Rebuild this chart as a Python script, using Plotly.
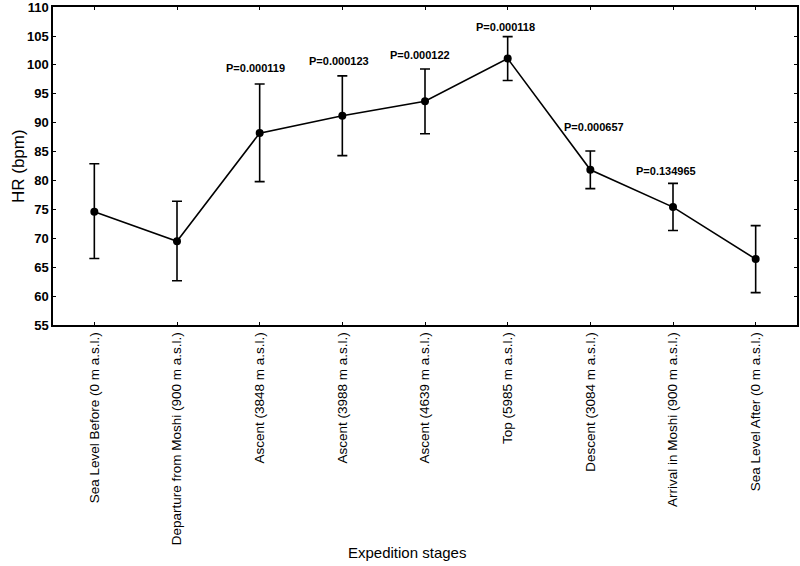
import plotly.graph_objects as go

stages = [
    "Sea Level Before (0 m a.s.l.)",
    "Departure from Moshi (900 m a.s.l.)",
    "Ascent (3848 m a.s.l.)",
    "Ascent (3988 m a.s.l.)",
    "Ascent (4639 m a.s.l.)",
    "Top (5985 m a.s.l.)",
    "Descent (3084 m a.s.l.)",
    "Arrival in Moshi (900 m a.s.l.)",
    "Sea Level After (0 m a.s.l.)",
]
hr_mean = [74.6, 69.5, 88.2, 91.2, 93.7, 101.1, 81.85, 75.4, 66.4]
hr_upper = [82.9, 76.4, 96.7, 98.1, 99.3, 104.9, 85.1, 79.5, 72.2]
hr_lower = [66.5, 62.65, 79.8, 84.3, 88.1, 97.3, 78.6, 71.35, 60.6]
p_stage_idx = [2, 3, 4, 5, 6, 7]
p_labels = ["P=0.000119", "P=0.000123", "P=0.000122", "P=0.000118", "P=0.000657", "P=0.134965"]

xs = list(range(len(stages)))
err_plus = [u - m for u, m in zip(hr_upper, hr_mean)]
err_minus = [m - l for m, l in zip(hr_mean, hr_lower)]

fig = go.Figure()
fig.add_trace(go.Scatter(
    x=xs, y=hr_mean, mode="lines+markers",
    line=dict(color="black", width=1.6),
    marker=dict(color="black", size=8),
    error_y=dict(type="data", symmetric=False, array=err_plus, arrayminus=err_minus,
                 color="black", thickness=1.6, width=5),
    showlegend=False,
    cliponaxis=False,
))

label_shift = [16, 15, 14, 10, 24, 12]
label_dx = [-4, -3, -5, -2, 4, -7]
for k, (i, t) in enumerate(zip(p_stage_idx, p_labels)):
    fig.add_annotation(x=i, y=hr_upper[i], text=t, showarrow=False,
                       yshift=label_shift[k], xshift=label_dx[k],
                       font=dict(family="Liberation Sans, Arial", size=11, color="black", weight="bold"))

fig.add_annotation(xref="paper", yref="paper", x=0.476, y=-0.714, text="Expedition stages",
                   showarrow=False, yanchor="middle", xanchor="center",
                   font=dict(size=15, family="Liberation Sans, Arial", color="black"))
fig.add_annotation(xref="paper", yref="paper", x=-0.047, y=0.5, text="HR (bpm)",
                   showarrow=False, yanchor="middle", xanchor="center", textangle=-90,
                   font=dict(size=17, family="Liberation Sans, Arial", color="black"))

fig.update_layout(
    width=800, height=566,
    paper_bgcolor="white", plot_bgcolor="white",
    margin=dict(l=53, r=3, t=7, b=241),
    font=dict(family="Liberation Sans, Arial", color="black"),
)
fig.update_xaxes(
    range=[-0.5, 8.5], tickmode="array", tickvals=xs, ticktext=stages,
    tickangle=-90, tickfont=dict(size=13.5, family="Liberation Sans, Arial"),
    ticks="inside", ticklen=3, tickcolor="black",
    showline=True, linecolor="black", linewidth=1.5, mirror="ticks",
    showgrid=False, zeroline=False, automargin=False,
)
fig.update_yaxes(
    range=[55, 110.02], tickmode="array", tickvals=list(range(55, 111, 5)),
    tickfont=dict(size=13, family="Liberation Sans, Arial", weight="bold"),
    ticks="inside", ticklen=3, tickcolor="black", ticklabeloverflow="allow",
    showline=True, linecolor="black", linewidth=1.5, mirror="ticks",
    showgrid=False, zeroline=False, automargin=False,
)

fig.write_html("out.html", post_script="document.body.style.margin='0';",
               config={"displayModeBar": False})
